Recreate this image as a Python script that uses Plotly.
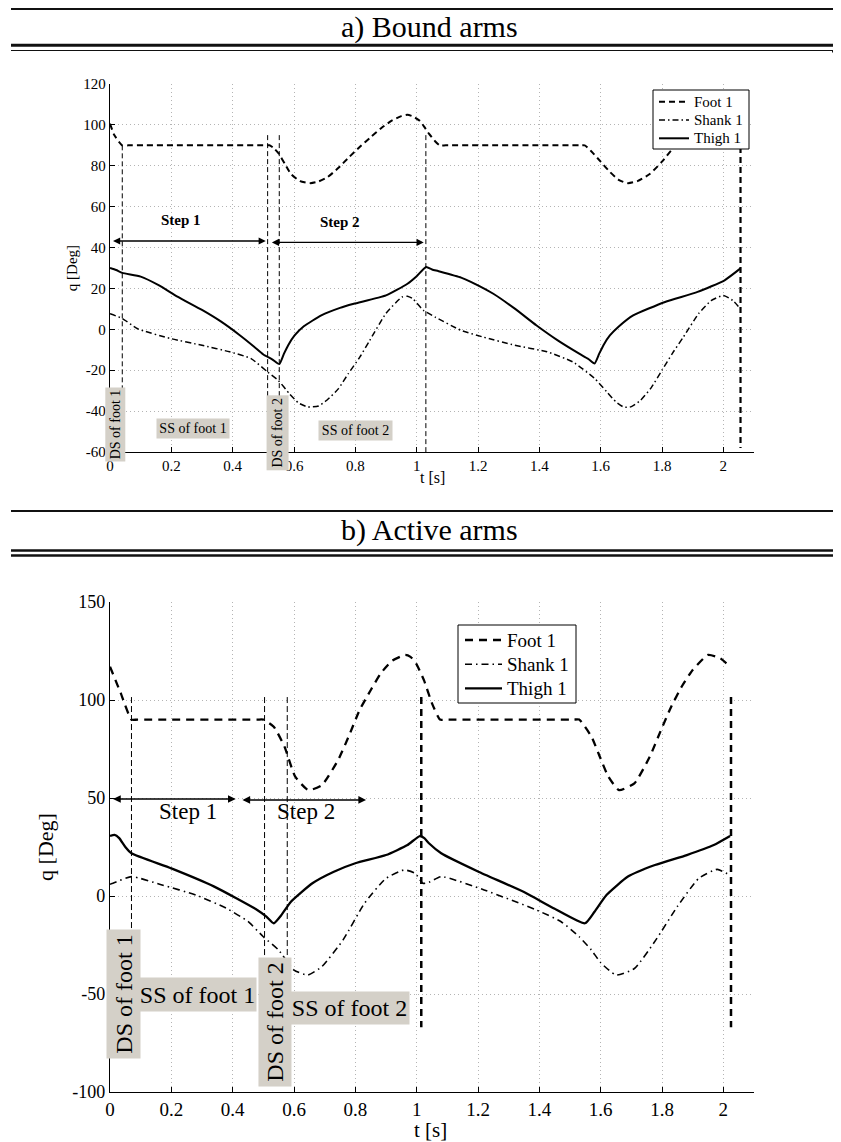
import plotly.graph_objects as go

FONT = "Liberation Serif, Times New Roman, Times, serif"

# ---------------- a) Bound arms ----------------
a_t_foot = [0, 0.014, 0.04, 0.06, 0.5, 0.52, 0.535, 0.55, 0.57, 0.59, 0.62, 0.654, 0.68, 0.71,
            0.745, 0.78, 0.815, 0.85, 0.885, 0.92, 0.95, 0.97, 0.99, 1.01, 1.025, 1.04, 1.06,
            1.075, 1.095, 1.53, 1.548, 1.57, 1.6, 1.63, 1.66, 1.689, 1.72, 1.76, 1.8, 1.83,
            1.87, 1.91, 1.95, 1.98, 2.0, 2.02, 2.04, 2.056]
a_foot = [100.6, 95, 90, 90, 90, 90, 88.5, 86, 81, 76, 72.5, 71.5, 72.3, 74.5,
          79, 84.3, 89.3, 94, 98.5, 102.2, 104.3, 105, 104, 102, 99, 95.7, 92,
          90, 90, 90, 90, 87, 82, 77, 73, 71.5, 72.5, 76, 82, 87.5,
          93, 98, 102.5, 104.3, 104.5, 103.5, 101.5, 99]

a_t_shank = [0, 0.04, 0.09, 0.2, 0.3, 0.39, 0.46, 0.514, 0.549, 0.585, 0.615, 0.645, 0.68, 0.707,
             0.745, 0.777, 0.815, 0.847, 0.9, 0.952, 0.97, 0.987, 1.022, 1.06, 1.145, 1.215,
             1.32, 1.425, 1.51, 1.58, 1.62, 1.65, 1.675, 1.7, 1.73, 1.765, 1.8, 1.835, 1.87,
             1.92, 1.96, 2.0, 2.03, 2.056]
a_shank = [7.6, 5.3, 0.3, -4.6, -7.8, -11, -14.3, -20.9, -25, -31.5, -36, -38, -37.5, -34.7,
           -29, -21.7, -13.5, -5.4, 7.8, 15.8, 16.2, 15, 9.3, 6, -0.5, -3.7,
           -7.8, -11, -16, -24, -30.6, -35.5, -38, -37.8, -34.7, -28.5, -20, -11.5, -3.7,
           7.8, 14, 16.6, 14.2, 10]

a_t_thigh = [0, 0.02, 0.04, 0.1, 0.16, 0.22, 0.3, 0.36, 0.42, 0.47, 0.5, 0.53, 0.552, 0.567,
             0.582, 0.602, 0.632, 0.689, 0.75, 0.795, 0.9, 0.97, 1.0, 1.031, 1.05, 1.07, 1.145,
             1.18, 1.25, 1.32, 1.39, 1.46, 1.53, 1.56, 1.58, 1.595, 1.61, 1.63, 1.66, 1.706,
             1.81, 1.916, 2.004, 2.056]
a_thigh = [30, 29, 27.6, 25.8, 21.5, 16, 9.5, 4, -2.5, -8.5, -12.3, -14.8, -17, -12,
           -7.5, -3, 1.5, 6.8, 10.5, 12.5, 16.6, 22.3, 26, 30.5, 29.3, 28.5, 25.3,
           23, 17.4, 10.1, 2, -5.4, -11.9, -14.5, -16.7, -12, -7.5, -3, 1.5, 6.8,
           13.4, 18.3, 24, 29.8]

a_phase_t = [0.04, 0.514, 0.552, 1.03]
a_phase_top = [90, 95, 95, 95]
a_phase_bottom = [-60, -60, -60, -60]
a_end_t = [2.056]
a_end_top = [99]
a_end_bottom = [-58]

# ---------------- b) Active arms ----------------
b_t_foot = [0, 0.035, 0.07, 0.09, 0.48, 0.5, 0.534, 0.569, 0.604, 0.647, 0.691, 0.744, 0.78,
            0.814, 0.85, 0.883, 0.92, 0.963, 0.98, 0.998, 1.024, 1.05, 1.076, 1.095, 1.51,
            1.53, 1.57, 1.6, 1.625, 1.66, 1.71, 1.76, 1.795, 1.83, 1.865, 1.9, 1.95, 1.99, 2.022]
b_foot = [117, 103.5, 90, 90, 90, 90, 86.4, 76.2, 60.9, 54, 56.6, 69.4, 82,
          94.9, 105, 113.6, 120, 123, 122, 118.7, 110, 98.3, 90, 90, 90,
          90, 81.3, 70, 60.9, 54, 57.5, 71, 84, 96.6, 107, 115.3, 123, 121.3, 117]

b_t_shank = [0, 0.01, 0.07, 0.17, 0.28, 0.38, 0.45, 0.5, 0.55, 0.6, 0.645, 0.691, 0.76, 0.83,
             0.9, 0.96, 0.995, 1.02, 1.04, 1.08, 1.22, 1.39, 1.47, 1.53, 1.57, 1.6, 1.65,
             1.71, 1.78, 1.85, 1.92, 1.98, 2.022]
b_shank = [6, 6.5, 9.9, 5.6, 0.5, -6.3, -13, -20.8, -27.6, -37.8, -40.3, -36, -22.4, -3.7,
           9, 13.3, 11.6, 6.5, 7, 9.9, 3.1, -7.1, -13, -20.8, -27.6, -34, -40.3,
           -37, -22.4, -5.4, 9, 13.6, 10.5]

b_t_thigh = [0, 0.015, 0.03, 0.05, 0.07, 0.2, 0.34, 0.48, 0.51, 0.534, 0.56, 0.59, 0.66, 0.73,
             0.8, 0.9, 0.97, 1.01, 1.025, 1.04, 1.08, 1.2, 1.35, 1.45, 1.549, 1.58, 1.619,
             1.689, 1.777, 1.881, 1.969, 2.022]
b_thigh = [30.6, 31.2, 29.5, 25, 21.8, 14.1, 4.8, -7.1, -10.5, -13.9, -9.5, -2.9, 6.5, 12.4,
           16.7, 20.9, 26, 30.6, 29.5, 26.9, 21.8, 12.5, 2, -6.5, -13.9, -8, 0.5,
           9.9, 15.8, 20.9, 26, 30.6]

b_phase_t = [0.07, 0.504, 0.578]
b_phase_top = [101.5, 101.5, 101.5]
b_phase_bottom = [-60, -60, -60]
b_end_t = [1.015, 2.025]
b_end_top = [101.5, 101.5]
b_end_bottom = [-67, -67]

series_names = ["Foot 1", "Shank 1", "Thigh 1"]

x_ticks = [0, 0.2, 0.4, 0.6, 0.8, 1.0, 1.2, 1.4, 1.6, 1.8, 2.0]
x_ticktext = ["0", "0.2", "0.4", "0.6", "0.8", "1", "1.2", "1.4", "1.6", "1.8", "2"]
a_y_ticks = [-60, -40, -20, 0, 20, 40, 60, 80, 100, 120]
a_y_ticktext = ["-60", "-40", "-20", "0", "20", "40", "60", "80", "100", "120"]
b_y_ticks = [-100, -50, 0, 50, 100, 150]
b_y_ticktext = ["-100", "-50", "0", "50", "100", "150"]

# the page body has an 8px default margin, so lay out the figure in page pixels minus 8
OFF = 8
W, H = 841 - OFF, 1142 - OFF


def px_x(p):
    return (p - OFF) / W


def px_y(p):
    return 1 - (p - OFF) / H


# styles (panel a, panel b)
foot_style = [dict(color="black", width=2, dash="6px,4px"), dict(color="black", width=2.3, dash="8px,6px")]
shank_style = [dict(color="black", width=1.5, dash="6px,3px,1.5px,3px"),
               dict(color="black", width=1.6, dash="7px,4px,1.5px,4px")]
thigh_style = [dict(color="black", width=2), dict(color="black", width=2.3)]

fig = go.Figure()

panels = [
    ("x", "y", a_phase_t, a_phase_top, a_phase_bottom, a_end_t, a_end_top, a_end_bottom,
     a_t_foot, a_foot, a_t_shank, a_shank, a_t_thigh, a_thigh, "5px,3px", 2.2, "6px,4px"),
    ("x2", "y2", b_phase_t, b_phase_top, b_phase_bottom, b_end_t, b_end_top, b_end_bottom,
     b_t_foot, b_foot, b_t_shank, b_shank, b_t_thigh, b_thigh, "6px,3px", 2.5, "7px,5px"),
]

for i, (xa, ya, pt, ptop, pbot, et, etop, ebot, tf, f, ts, s, tt, th, pdash, ew, edash) in enumerate(panels):
    for t, y0, y1 in zip(pt, ptop, pbot):
        fig.add_trace(go.Scatter(x=[t, t], y=[y0, y1], mode="lines", showlegend=False,
                                 line=dict(color="black", width=1, dash=pdash),
                                 xaxis=xa, yaxis=ya, hoverinfo="skip"))
    for t, y0, y1 in zip(et, etop, ebot):
        fig.add_trace(go.Scatter(x=[t, t], y=[y0, y1], mode="lines", showlegend=False,
                                 line=dict(color="black", width=ew, dash=edash),
                                 xaxis=xa, yaxis=ya, hoverinfo="skip"))
    fig.add_trace(go.Scatter(x=tf, y=f, name=series_names[0], mode="lines", showlegend=False,
                             line=dict(**foot_style[i], shape="spline", smoothing=0.5), xaxis=xa, yaxis=ya))
    fig.add_trace(go.Scatter(x=ts, y=s, name=series_names[1], mode="lines", showlegend=False,
                             line=dict(**shank_style[i], shape="spline", smoothing=0.5), xaxis=xa, yaxis=ya))
    fig.add_trace(go.Scatter(x=tt, y=th, name=series_names[2], mode="lines", showlegend=False,
                             line=dict(**thigh_style[i], shape="spline", smoothing=0.5), xaxis=xa, yaxis=ya))

x_dom = [px_x(110), px_x(754)]
axis_common = dict(showgrid=True, gridcolor="#b4b4b4", griddash="1px,3px", gridwidth=1,
                   zeroline=False, showline=True, linecolor="black", linewidth=1.3,
                   ticks="inside", ticklen=5, tickcolor="black", tickwidth=1,
                   mirror=False, automargin=False)

fig.update_layout(
    template="none",
    width=W, height=H,
    margin=dict(l=0, r=0, t=0, b=0),
    paper_bgcolor="white", plot_bgcolor="white",
    font=dict(family=FONT, color="black"),
    showlegend=False,
    xaxis=dict(domain=x_dom, range=[0, 2.1], tickvals=x_ticks, ticktext=x_ticktext,
               tickfont=dict(size=15, family=FONT), anchor="y", **axis_common),
    yaxis=dict(domain=[px_y(452), px_y(84)], range=[-60, 120], tickvals=a_y_ticks,
               ticktext=a_y_ticktext, tickfont=dict(size=15, family=FONT), anchor="x",
               title=dict(text="q [Deg]", font=dict(size=15, family=FONT), standoff=2),
               **axis_common),
    xaxis2=dict(domain=x_dom, range=[0, 2.1], tickvals=x_ticks, ticktext=x_ticktext,
                tickfont=dict(size=19, family=FONT), anchor="y2", **axis_common),
    yaxis2=dict(domain=[px_y(1092), px_y(602)], range=[-100, 150], tickvals=b_y_ticks,
                ticktext=b_y_ticktext, tickfont=dict(size=18, family=FONT), anchor="x2",
                title=dict(text="q [Deg]", font=dict(size=22, family=FONT), standoff=12),
                **axis_common),
)

shapes = []
ann = []


def hline(y, x0, x1, w):
    shapes.append(dict(type="line", xref="paper", yref="paper", x0=px_x(x0), x1=px_x(x1),
                       y0=px_y(y), y1=px_y(y), line=dict(color="#111", width=w)))


hline(9, 11, 841, 2)
hline(45.2, 11, 841, 3)
hline(50.5, 11, 832, 1.2)
hline(51.3, 832, 841, 2.5)
hline(511, 11, 841, 2)
hline(550.5, 11, 841, 2.5)
hline(555.5, 11, 841, 2.5)


# ---- manual legends (box, line samples, labels)
def legend_box(x0, x1, y0, y1, sx0, sx1, tx, rows, styles, size):
    shapes.append(dict(type="rect", xref="paper", yref="paper", x0=px_x(x0), x1=px_x(x1),
                       y0=px_y(y1), y1=px_y(y0), fillcolor="white",
                       line=dict(color="black", width=1), layer="above"))
    for name, ry, st in zip(series_names, rows, styles):
        shapes.append(dict(type="line", xref="paper", yref="paper", x0=px_x(sx0), x1=px_x(sx1),
                           y0=px_y(ry), y1=px_y(ry), line=st, layer="above"))
        ann.append(dict(text=name, x=px_x(tx), y=px_y(ry), xref="paper", yref="paper",
                        showarrow=False, xanchor="left", yanchor="middle",
                        font=dict(size=size, family=FONT)))


legend_box(653, 749, 90, 149, 659, 689, 692, [101.7, 120, 138.3],
           [foot_style[0], shank_style[0], thigh_style[0]], 15)
legend_box(458, 576, 625, 703, 465, 502, 505, [640, 664.3, 688.3],
           [foot_style[1], shank_style[1], thigh_style[1]], 19)

fig.update_layout(shapes=shapes)

ann.append(dict(text="a) Bound arms", x=px_x(429), y=px_y(26.5), xref="paper", yref="paper",
                showarrow=False, font=dict(size=30, family=FONT), xanchor="center", yanchor="middle"))
ann.append(dict(text="b) Active arms", x=px_x(429), y=px_y(530), xref="paper", yref="paper",
                showarrow=False, font=dict(size=30, family=FONT), xanchor="center", yanchor="middle"))
ann.append(dict(text="t [s]", x=px_x(432), y=px_y(477), xref="paper", yref="paper",
                showarrow=False, font=dict(size=16, family=FONT), xanchor="center", yanchor="middle"))
ann.append(dict(text="t [s]", x=px_x(431), y=px_y(1130), xref="paper", yref="paper",
                showarrow=False, font=dict(size=21, family=FONT), xanchor="center", yanchor="middle"))


def darrow(xa, ya, x0, x1, yv, w):
    ann.append(dict(x=x1, y=yv, ax=x0, ay=yv, xref=xa, yref=ya, axref=xa, ayref=ya,
                    text="", showarrow=True, arrowside="end+start", arrowhead=2,
                    arrowsize=1.1, arrowwidth=w, arrowcolor="black", standoff=0, startstandoff=0))


darrow("x", "y", 0.005, 0.508, 43.2, 1.3)
darrow("x", "y", 0.523, 1.023, 42.5, 1.3)
darrow("x2", "y2", 0.005, 0.41, 49.5, 1.4)
darrow("x2", "y2", 0.427, 0.835, 49.0, 1.4)

ann.append(dict(text="<b>Step 1</b>", x=0.232, y=53.3, xref="x", yref="y", showarrow=False,
                font=dict(size=15, family=FONT)))
ann.append(dict(text="<b>Step 2</b>", x=0.75, y=52.3, xref="x", yref="y", showarrow=False,
                font=dict(size=15, family=FONT)))
ann.append(dict(text="Step 1", x=0.254, y=42.9, xref="x2", yref="y2", showarrow=False,
                font=dict(size=23, family=FONT)))
ann.append(dict(text="Step 2", x=0.64, y=42.9, xref="x2", yref="y2", showarrow=False,
                font=dict(size=23, family=FONT)))

BOX = "#d4d0c8"


def box(text, xa, ya, x, y, w, h, size, angle=0):
    ann.append(dict(text=text, x=x, y=y, xref=xa, yref=ya, showarrow=False,
                    textangle=angle, width=w, height=h, bgcolor=BOX, borderpad=0,
                    font=dict(size=size, family=FONT), align="center", valign="middle"))


box("DS of foot 1", "x", "y", 0.0176, -46.6, 73, 19, 14, -90)
box("SS of foot 1", "x", "y", 0.271, -48.7, 72, 19, 14)
box("DS of foot 2", "x", "y", 0.546, -50.4, 74, 21, 14, -90)
box("SS of foot 2", "x", "y", 0.802, -49.6, 73, 19, 14)

box("DS of foot 1", "x2", "y2", 0.0424, -50.0, 128, 33, 24, -90)
box("SS of foot 1", "x2", "y2", 0.285, -50.3, 117, 33, 24)
box("DS of foot 2", "x2", "y2", 0.538, -64.3, 128, 32, 24, -90)
box("SS of foot 2", "x2", "y2", 0.781, -57.1, 119, 32, 24)

fig.update_layout(annotations=ann)

fig.write_html("out.html")
